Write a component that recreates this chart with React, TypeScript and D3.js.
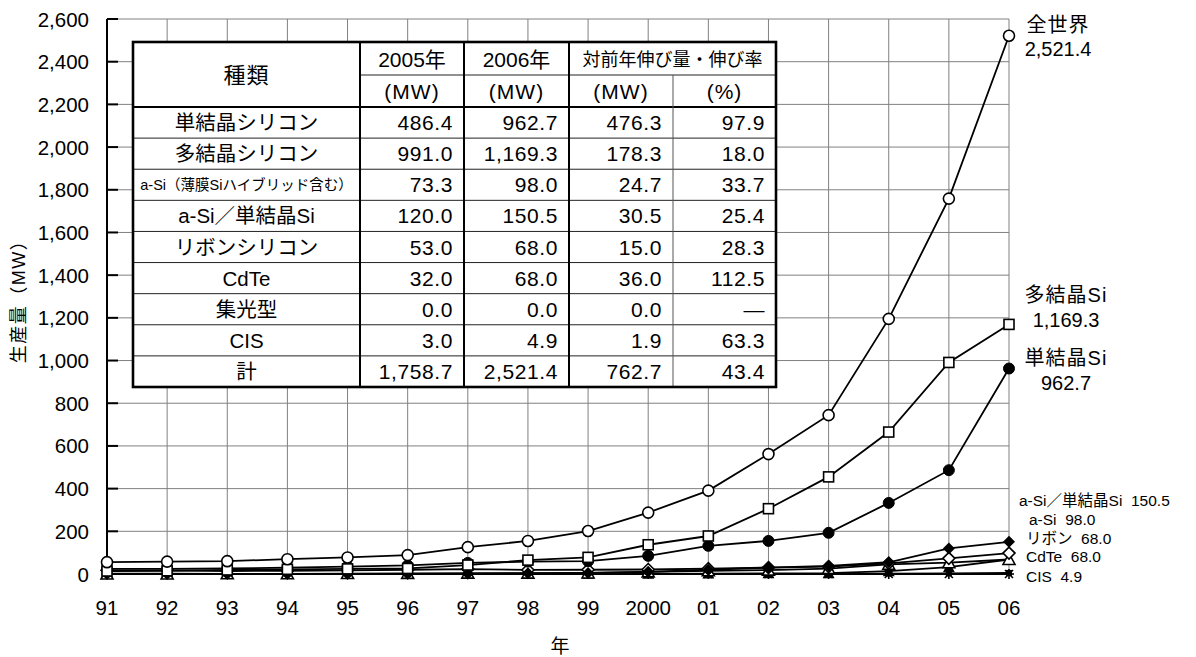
import React from "react";
import * as d3 from "d3";

const years = ["91","92","93","94","95","96","97","98","99","2000","01","02","03","04","05","06"];
const yTicks = [0,200,400,600,800,1000,1200,1400,1600,1800,2000,2200,2400,2600];

const world = [55.4,57.9,60.1,69.4,77.6,88.6,125.8,154.9,201.3,287.7,390.5,561.8,744.1,1195,1758.7,2521.4];
const polySi = [14,15,19,22,24,26,42,65,78,137,178,306,455,665,991.0,1169.3];
const monoSi = [24,24,26,30,35,40,52,58,60,85,132,155,193,333,486.4,962.7];
const hybridSi = [0,0,0,0,0,0,1,3,5,10,20,30,38,55,120.0,150.5];
const aSi = [17,17,14,15,17,20,23,19,20,21,25,30,35,50,73.3,98.0];
const ribbon = [0,0,1,1,2,3,4,4,5,10,15,18,25,45,53.0,68.0];
const cdte = [2,2,1,1,1,1,1,1,1,1,2,3,4,13,32.0,68.0];
const conc = [0,0,0,0,0,0,0,0,0,0,0,0,0,0,0.0,0.0];
const cis = [0,0,0,0,0,0,0,0,0,0,0.5,1,1,2,3.0,4.9];

const tableTypes = ["単結晶シリコン","多結晶シリコン","a-Si（薄膜Siハイブリッド含む）","a-Si／単結晶Si","リボンシリコン","CdTe","集光型","CIS","計"];
const prod2005 = ["486.4","991.0","73.3","120.0","53.0","32.0","0.0","3.0","1,758.7"];
const prod2006 = ["962.7","1,169.3","98.0","150.5","68.0","68.0","0.0","4.9","2,521.4"];
const growthMW = ["476.3","178.3","24.7","30.5","15.0","36.0","0.0","1.9","762.7"];
const growthPct = ["97.9","18.0","33.7","25.4","28.3","112.5","—","63.3","43.4"];
const headerRow1 = ["種類","2005年","2006年","対前年伸び量・伸び率"];
const headerRow2 = ["(MW)","(MW)","(MW)","(%)"];

const FONT = "'Liberation Sans', Arial, 'Noto Sans CJK JP', sans-serif";

type Series = { name: string; values: number[]; marker: string };
const series: Series[] = [
  { name: "集光型", values: conc, marker: "asterisk" },
  { name: "CIS", values: cis, marker: "smallsquare" },
  { name: "CdTe", values: cdte, marker: "filledtri" },
  { name: "リボン", values: ribbon, marker: "opentri" },
  { name: "a-Si", values: aSi, marker: "opendiamond" },
  { name: "a-Si／単結晶Si", values: hybridSi, marker: "filleddiamond" },
  { name: "単結晶Si", values: monoSi, marker: "filledcircle" },
  { name: "多結晶Si", values: polySi, marker: "opensquare" },
  { name: "全世界", values: world, marker: "opencircle" },
];

const endLabels = [
  { lines: ["全世界", "2,521.4"], x: 1058, y: [32, 56] },
  { lines: ["多結晶Si", "1,169.3"], x: 1066, y: [302, 327] },
  { lines: ["単結晶Si", "962.7"], x: 1066, y: [365, 390] },
];
const smallLabels = [
  { text: "a-Si／単結晶Si  150.5", x: 1019, y: 506 },
  { text: "a-Si  98.0", x: 1029, y: 525 },
  { text: "リボン  68.0", x: 1026, y: 544 },
  { text: "CdTe  68.0", x: 1026, y: 562 },
  { text: "CIS  4.9", x: 1026, y: 582 },
];

function Marker({ type, x, y }: { type: string; x: number; y: number }) {
  const sw = 1.6;
  switch (type) {
    case "opencircle":
      return <circle cx={x} cy={y} r={5.5} fill="#fff" stroke="#000" strokeWidth={sw} />;
    case "filledcircle":
      return <circle cx={x} cy={y} r={5.5} fill="#000" stroke="#000" strokeWidth={1} />;
    case "opensquare":
      return <rect x={x - 5} y={y - 5} width={10} height={10} fill="#fff" stroke="#000" strokeWidth={sw} />;
    case "smallsquare":
      return <rect x={x - 3} y={y - 3} width={6} height={6} fill="#000" />;
    case "opendiamond":
      return <path d={`M${x},${y - 6}L${x + 6},${y}L${x},${y + 6}L${x - 6},${y}Z`} fill="#fff" stroke="#000" strokeWidth={sw} />;
    case "filleddiamond":
      return <path d={`M${x},${y - 6}L${x + 6},${y}L${x},${y + 6}L${x - 6},${y}Z`} fill="#000" />;
    case "opentri":
      return <path d={`M${x},${y - 6}L${x + 6},${y + 5}L${x - 6},${y + 5}Z`} fill="#fff" stroke="#000" strokeWidth={sw} />;
    case "filledtri":
      return <path d={`M${x},${y - 6}L${x + 6},${y + 5}L${x - 6},${y + 5}Z`} fill="#000" />;
    case "asterisk":
      return (
        <g stroke="#000" strokeWidth={1.6}>
          <line x1={x - 5} y1={y} x2={x + 5} y2={y} />
          <line x1={x} y1={y - 5} x2={x} y2={y + 5} />
          <line x1={x - 4} y1={y - 4} x2={x + 4} y2={y + 4} />
          <line x1={x - 4} y1={y + 4} x2={x + 4} y2={y - 4} />
        </g>
      );
    default:
      return null;
  }
}

export default function App() {
  const x = d3.scalePoint<string>().domain(years).range([107, 1009]);
  const y = d3.scaleLinear().domain([0, 2600]).range([574, 19]);
  const line = d3.line<number>().x((_, i) => x(years[i]) as number).y((v) => y(v));

  const tL = 133, tR = 776, tT = 42, tH1 = 75, tH2 = 107, tB = 387;
  const cols = [tL, 360, 464, 569, 673, tR];
  const rowH = (tB - tH2) / tableTypes.length;
  const rowY = (i: number) => tH2 + i * rowH;
  const dataCols = [prod2005, prod2006, growthMW, growthPct];

  return (
    <svg width={1196} height={657} style={{ position: "absolute", left: 0, top: 0, background: "#fff" }} fontFamily={FONT}>
      <rect x={0} y={0} width={1196} height={657} fill="#fff" />
      {years.map((yr) => (
        <line key={"v" + yr} x1={x(yr)} x2={x(yr)} y1={y(2600)} y2={y(0)} stroke="#808080" strokeWidth={1} />
      ))}
      {yTicks.map((t) => (
        <line key={"h" + t} x1={x("91")} x2={x("06")} y1={y(t)} y2={y(t)} stroke="#808080" strokeWidth={1} />
      ))}
      <line x1={107} x2={107} y1={y(2600)} y2={y(0)} stroke="#000" strokeWidth={2} />
      <line x1={107} x2={1009} y1={y(0)} y2={y(0)} stroke="#000" strokeWidth={1.5} />
      {yTicks.map((t) => (
        <g key={"t" + t}>
          <line x1={107} x2={118} y1={y(t)} y2={y(t)} stroke="#000" strokeWidth={2} />
          <text x={89} y={y(t) + 7.5} textAnchor="end" fontSize={20.5} fill="#000">
            {d3.format(",")(t)}
          </text>
        </g>
      ))}
      {years.map((yr) => (
        <text key={"xl" + yr} x={x(yr)} y={615} textAnchor="middle" fontSize={20.5} fill="#000">
          {yr}
        </text>
      ))}
      <text x={560} y={653} textAnchor="middle" fontSize={19} fill="#000">年</text>
      <text transform={`translate(25,297) rotate(-90)`} textAnchor="middle" fontSize={18} letterSpacing={1.5} fill="#000">
        生産量（MW）
      </text>

      {series.map((s) => (
        <path key={"l" + s.name} d={line(s.values) || ""} fill="none" stroke="#000" strokeWidth={1.8} />
      ))}
      {series.map((s) =>
        s.values.map((v, i) => <Marker key={s.name + i} type={s.marker} x={x(years[i]) as number} y={y(v)} />)
      )}

      <rect x={tL} y={tT} width={tR - tL} height={tB - tT} fill="#fff" stroke="none" />
      {tableTypes.map((_, i) =>
        i > 0 ? <line key={"rl" + i} x1={tL} x2={tR} y1={rowY(i)} y2={rowY(i)} stroke="#222" strokeWidth={1} /> : null
      )}
      <line x1={cols[1]} x2={tR} y1={tH1} y2={tH1} stroke="#222" strokeWidth={1} />
      <line x1={tL} x2={tR} y1={tH2} y2={tH2} stroke="#000" strokeWidth={2.2} />
      {cols.slice(1, 4).map((c) => (
        <line key={"c" + c} x1={c} x2={c} y1={tT} y2={tB} stroke="#000" strokeWidth={2} />
      ))}
      <line x1={cols[4]} x2={cols[4]} y1={tH1} y2={tB} stroke="#555" strokeWidth={1} />
      <rect x={tL} y={tT} width={tR - tL} height={tB - tT} fill="none" stroke="#000" strokeWidth={2.6} />

      <text x={(cols[0] + cols[1]) / 2} y={(tT + tH2) / 2 + 8} textAnchor="middle" fontSize={22} letterSpacing={1} fill="#000">
        {headerRow1[0]}
      </text>
      <text x={(cols[1] + cols[2]) / 2} y={tH1 - 8} textAnchor="middle" fontSize={21} fill="#000">{headerRow1[1]}</text>
      <text x={(cols[2] + cols[3]) / 2} y={tH1 - 8} textAnchor="middle" fontSize={21} fill="#000">{headerRow1[2]}</text>
      <text x={(cols[3] + cols[5]) / 2} y={tH1 - 9} textAnchor="middle" fontSize={18} fill="#000">{headerRow1[3]}</text>
      {headerRow2.map((h, j) => (
        <text key={"h2" + j} x={(cols[j + 1] + cols[j + 2]) / 2} y={tH2 - 8} textAnchor="middle" fontSize={21} letterSpacing={1} fill="#000">
          {h}
        </text>
      ))}
      {tableTypes.map((name, i) => (
        <g key={"row" + i}>
          <text
            x={(cols[0] + cols[1]) / 2}
            y={rowY(i) + rowH / 2 + (i === 2 ? 5 : 7.5)}
            textAnchor="middle"
            fontSize={i === 2 ? 14.5 : 20.5}
            fill="#000"
          >
            {name}
          </text>
          {dataCols.map((col, j) => (
            <text key={"d" + j} x={cols[j + 2] - 11} y={rowY(i) + rowH / 2 + 7.5} textAnchor="end" fontSize={21} letterSpacing={0.6} fill="#000">
              {col[i]}
            </text>
          ))}
        </g>
      ))}

      {endLabels.map((l, k) =>
        l.lines.map((t, m) => (
          <text key={"el" + k + m} x={l.x} y={l.y[m]} textAnchor="middle" fontSize={20} letterSpacing={m === 0 ? 1 : 0} fill="#000">
            {t}
          </text>
        ))
      )}
      {smallLabels.map((l, k) => (
        <text key={"sl" + k} x={l.x} y={l.y} fontSize={15.5} fill="#000" style={{ whiteSpace: "pre" }}>
          {l.text}
        </text>
      ))}
    </svg>
  );
}
